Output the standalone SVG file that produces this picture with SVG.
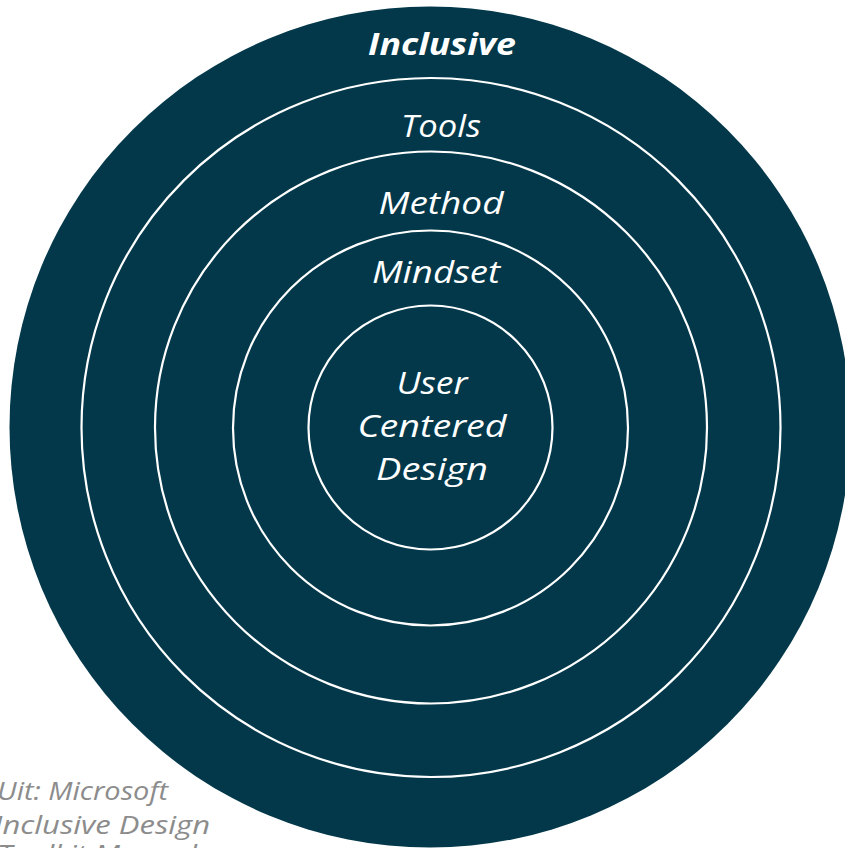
<svg xmlns="http://www.w3.org/2000/svg" width="845" height="848" viewBox="0 0 845 848">
  <style>
    .ring { fill: none; stroke: #ffffff; stroke-width: 2.2; }
    .lbl { font-family: "Open Sans", "Noto Sans", sans-serif; font-style: italic; fill: #ffffff; font-size: 31px; text-anchor: middle; }
    .note { font-family: "Open Sans", "Noto Sans", sans-serif; font-style: italic; fill: #8c8c8c; font-size: 26px; }
  </style>
  <rect width="845" height="848" fill="#ffffff"/>
  <g id="inclusive">
    <circle cx="430" cy="427" r="420.5" fill="#02384a"/>
    <text class="lbl" x="442" y="55" font-weight="bold" textLength="148" lengthAdjust="spacingAndGlyphs">Inclusive</text>
  </g>
  <g id="tools">
    <circle class="ring" cx="431" cy="427.5" r="349.5"/>
    <text class="lbl" x="441" y="137" textLength="80" lengthAdjust="spacingAndGlyphs">Tools</text>
  </g>
  <g id="method">
    <circle class="ring" cx="431" cy="427.5" r="276"/>
    <text class="lbl" x="441" y="214" textLength="125" lengthAdjust="spacingAndGlyphs">Method</text>
  </g>
  <g id="mindset">
    <circle class="ring" cx="430.5" cy="428" r="197.5"/>
    <text class="lbl" x="436" y="283" textLength="128" lengthAdjust="spacingAndGlyphs">Mindset</text>
  </g>
  <g id="ucd">
    <circle class="ring" cx="430.5" cy="427.5" r="122"/>
    <text class="lbl" x="432" y="394" textLength="71" lengthAdjust="spacingAndGlyphs">User</text>
    <text class="lbl" x="432" y="437" textLength="149" lengthAdjust="spacingAndGlyphs">Centered</text>
    <text class="lbl" x="432" y="480" textLength="112" lengthAdjust="spacingAndGlyphs">Design</text>
  </g>
  <g id="connectors"></g>
  <g id="credit">
    <text class="note" x="-3" y="800" textLength="171" lengthAdjust="spacingAndGlyphs">Uit: Microsoft</text>
    <text class="note" x="-6" y="834" textLength="216" lengthAdjust="spacingAndGlyphs">Inclusive Design</text>
    <text class="note" x="-3" y="863" textLength="200" lengthAdjust="spacingAndGlyphs">Toolkit Manual</text>
  </g>
</svg>
